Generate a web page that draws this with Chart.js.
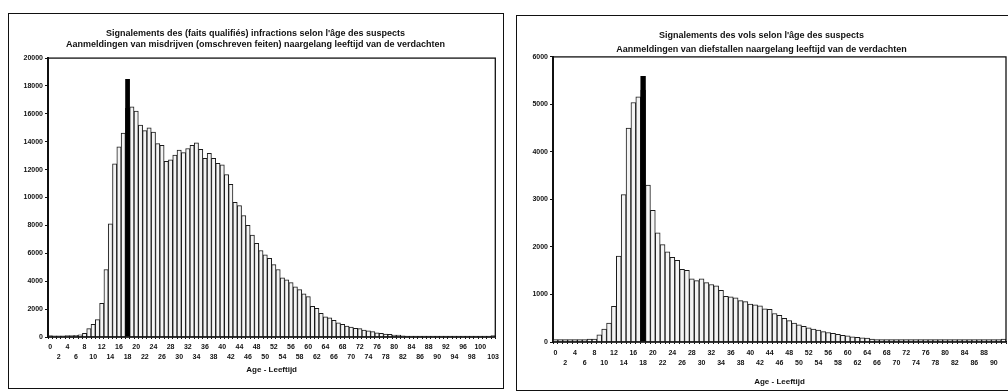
<!DOCTYPE html>
<html>
<head>
<meta charset="utf-8">
<script src="https://cdn.jsdelivr.net/npm/chart.js@4.4.1/dist/chart.umd.min.js"></script>
<style>
body { margin: 0; background: #fff; width: 1008px; height: 392px; overflow: hidden; position: relative; }
.panel { position: absolute; border: 1px solid #111; }
#leftPanel { left: 8px; top: 13px; width: 494px; height: 374px; }
#rightPanel { left: 516px; top: 15px; width: 498px; height: 374px; }
.panel div { position: absolute; left: 0; top: 0; width: 100%; height: 100%; }
</style>
</head>
<body>
<div class="panel" id="leftPanel"><div><canvas id="leftChart"></canvas></div></div>
<div class="panel" id="rightPanel"><div><canvas id="rightChart"></canvas></div></div>
<script>
// left: all offences, ages 0..103
var leftAges = Array.from({length: 104}, (_, i) => String(i));
var leftCounts = [
    100, 80, 90, 90, 100, 100, 120, 160, 260, 600,
    900, 1250, 2420, 4840, 8120, 12410, 13640, 14620, 16400, 16500,
    16200, 15200, 14800, 15000, 14700, 13870, 13750, 12600, 12700, 13050,
    13400, 13220, 13520, 13750, 13920, 13450, 12820, 13170, 12820, 12460,
    12350, 11640, 10940, 9650, 9420, 8710, 8010, 7300, 6710, 6200,
    5890, 5650, 5190, 4840, 4250, 4100, 3900, 3600, 3400, 3100,
    2900, 2200, 2050, 1700, 1450, 1380, 1200, 1010, 910, 780,
    720, 620, 600, 490, 450, 380, 300, 260, 210, 190,
    140, 130, 80, 70, 70, 60, 60, 60, 60, 60,
    60, 60, 60, 60, 60, 60, 60, 60, 60, 60,
    60, 60, 60, 110
];
var leftTopRow = ['0','4','8','12','16','20','24','28','32','36','40','44','48','52','56','60','64','68','72','76','80','84','88','92','96','100'];
var leftBottomRow = ['2','6','10','14','18','22','26','30','34','38','42','46','50','54','58','62','66','70','74','78','82','86','90','94','98','103'];

// right: thefts, ages 0..92
var rightAges = Array.from({length: 93}, (_, i) => String(i));
var rightCounts = [
    50, 50, 50, 50, 50, 50, 50, 60, 60, 150,
    270, 400, 750, 1810, 3100, 4500, 5040, 5160, 5300, 3300,
    2770, 2300, 2050, 1900, 1780, 1720, 1530, 1510, 1330, 1290,
    1330, 1250, 1210, 1180, 1090, 960, 950, 930, 870, 850,
    800, 780, 760, 700, 690, 600, 560, 500, 450, 400,
    360, 330, 300, 270, 250, 220, 200, 180, 160, 140,
    130, 110, 100, 90, 80, 60, 50, 50, 50, 50,
    50, 50, 50, 50, 50, 50, 50, 50, 50, 50,
    50, 50, 50, 50, 50, 50, 50, 50, 50, 50,
    50, 50, 60
];
var rightTopRow = ['0','4','8','12','16','20','24','28','32','36','40','44','48','52','56','60','64','68','72','76','80','84','88'];
var rightBottomRow = ['2','6','10','14','18','22','26','30','34','38','42','46','50','54','58','62','66','70','74','78','82','86','90'];

// age of majority marker
var markerAge = '18';
var leftMarkerTop = 18500;
var rightMarkerTop = 5600;

var fontFamily = '"Liberation Sans", Arial, sans-serif';

var frameBox = {
    id: 'frameBox',
    afterDraw(chart) {
        var a = chart.chartArea, ctx = chart.ctx;
        ctx.save();
        ctx.strokeStyle = '#111';
        ctx.lineWidth = 1.3;
        ctx.strokeRect(a.left, a.top, a.right - a.left, a.bottom - a.top);
        ctx.restore();
    }
};

function makeChart(id, cfg) {
    var markerData = cfg.ages.map(a => a === markerAge ? cfg.markerTop : null);
    var ctx = document.getElementById(id).getContext('2d');
    return new Chart(ctx, {
        type: 'bar',
        data: {
            labels: cfg.ages,
            datasets: [{
                data: markerData,
                backgroundColor: '#000',
                borderWidth: 0,
                grouped: false,
                categoryPercentage: 1,
                barPercentage: 1.1,
                order: 0
            }, {
                data: cfg.counts,
                backgroundColor: '#f4f4f4',
                borderColor: '#1a1a1a',
                borderWidth: 1,
                grouped: false,
                categoryPercentage: 1,
                barPercentage: 1,
                order: 1
            }]
        },
        options: {
            responsive: true,
            maintainAspectRatio: false,
            animation: false,
            layout: { autoPadding: false, padding: { right: cfg.padRight, left: 0 } },
            plugins: {
                legend: { display: false },
                tooltip: { enabled: false },
                title: {
                    display: true,
                    text: cfg.title,
                    color: '#111',
                    font: { family: fontFamily, size: 9, weight: 'bold', lineHeight: cfg.titleLine },
                    padding: { top: cfg.titleTop, bottom: cfg.titleBottom }
                }
            },
            scales: {
                x: {
                    grid: { drawOnChartArea: false, tickLength: 2, color: '#111' },
                    border: { color: '#111', width: 1.5 },
                    ticks: {
                        autoSkip: false, maxRotation: 0, minRotation: 0,
                        padding: cfg.xPad, color: '#111',
                        font: { family: fontFamily, size: 7, weight: 'bold', lineHeight: cfg.xLine },
                        callback: function(value) {
                            var age = this.getLabelForValue(value);
                            if (cfg.topRow.includes(age)) return [age, ''];
                            if (cfg.bottomRow.includes(age)) return ['', age];
                            return '';
                        }
                    },
                    title: {
                        display: true, text: 'Age - Leeftijd', color: '#111',
                        font: { family: fontFamily, size: 8, weight: 'bold' },
                        padding: { top: 2, bottom: cfg.xTitleBottom }
                    },
                    afterFit: s => { s.height = cfg.xHeight; }
                },
                y: {
                    min: 0, max: cfg.yMax,
                    grid: { drawOnChartArea: false, tickLength: 3, color: '#111' },
                    border: { color: '#111', width: 2 },
                    ticks: {
                        stepSize: cfg.yStep, padding: 2, color: '#111',
                        font: { family: fontFamily, size: 7, weight: 'bold' },
                        callback: v => String(v)
                    },
                    afterFit: s => { s.width = cfg.yWidth; }
                }
            }
        },
        plugins: [frameBox]
    });
}

makeChart('leftChart', {
    ages: leftAges, counts: leftCounts, markerTop: leftMarkerTop,
    topRow: leftTopRow, bottomRow: leftBottomRow,
    title: ['Signalements des (faits qualifiés) infractions selon l\'âge des suspects',
            'Aanmeldingen van misdrijven (omschreven feiten) naargelang leeftijd van de verdachten'],
    titleLine: 1.2, titleTop: 14, titleBottom: 8.5,
    yMax: 20000, yStep: 2000, yWidth: 39,
    xHeight: 51, xPad: 4, xLine: 1.3, xTitleBottom: 13, padRight: 1
});

makeChart('rightChart', {
    ages: rightAges, counts: rightCounts, markerTop: rightMarkerTop,
    topRow: rightTopRow, bottomRow: rightBottomRow,
    title: ['Signalements des vols selon l\'âge des suspects',
            'Aanmeldingen van diefstallen naargelang leeftijd van de verdachten'],
    titleLine: 1.55, titleTop: 13, titleBottom: 0,
    yMax: 6000, yStep: 1000, yWidth: 36,
    xHeight: 48, xPad: 4, xLine: 1.45, xTitleBottom: 3, padRight: 9
});
</script>
</body>
</html>
